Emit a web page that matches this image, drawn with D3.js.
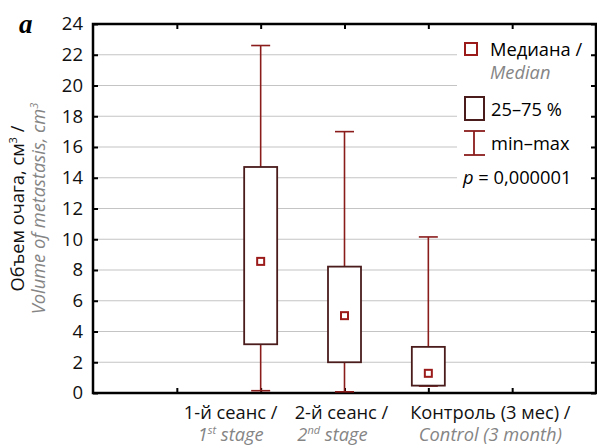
<!DOCTYPE html>
<html>
<head>
<meta charset="utf-8">
<script src="https://cdn.jsdelivr.net/npm/d3@7"></script>
<style>
  body { margin: 0; background: #fff; }
  text { font-family: "Open Sans", "Noto Sans", sans-serif; }
</style>
</head>
<body>
<div id="chart"></div>
<script>
// slots on the x axis: empty, 3 groups, empty
const slots = ["s0", "g1", "g2", "g3", "s4"];
const groupSlots = ["g1", "g2", "g3"];
const groupsRu = ["1-й сеанс /", "2-й сеанс /", "Контроль (3 мес) /"];
const groupsEnNum = ["1", "2", "Control (3 month)"];
const groupsEnSup = ["st", "nd", ""];
const groupsEnTail = [" stage", " stage", ""];

const minVals = [0.15, 0.08, 0.45];
const q1Vals = [3.17, 2.0, 0.48];
const medianVals = [8.56, 5.03, 1.28];
const q3Vals = [14.7, 8.22, 3.0];
const maxVals = [22.6, 17.0, 10.15];

const yTicks = [0, 2, 4, 6, 8, 10, 12, 14, 16, 18, 20, 22, 24];

const W = 597, H = 446;
const margin = { top: 24, right: 1, bottom: 53, left: 93 };
const width = W - margin.left - margin.right;
const height = H - margin.top - margin.bottom;

const fs = "18.3px";
const supFs = "11px";
const whiskerColor = "#8b1c1c";
const boxColor = "#4a1c1c";
const medianColor = "#9b1b1b";
const grey = "#858585";

const svg = d3.select("#chart").append("svg")
    .attr("width", W)
    .attr("height", H);

const g = svg.append("g")
    .attr("transform", "translate(" + margin.left + "," + margin.top + ")");

const x = d3.scalePoint()
    .domain(slots)
    .range([0, width])
    .padding(1);

const y = d3.scaleLinear()
    .domain([0, 24])
    .range([height, 0]);

// gridlines
g.append("g")
    .selectAll("line")
    .data(yTicks.filter(t => t > 0 && t < 24))
    .enter()
    .append("line")
    .attr("x1", 0)
    .attr("x2", width)
    .attr("y1", d => y(d))
    .attr("y2", d => y(d))
    .style("stroke", "#c4c4c4")
    .style("stroke-width", 1.2);

// legend background covers gridlines
const lg = g.append("g").attr("transform", "translate(" + (457 - margin.left) + ",0)");
lg.append("rect")
    .attr("x", 0)
    .attr("y", 6)
    .attr("width", width - (457 - margin.left) - 3)
    .attr("height", 176)
    .style("fill", "#fff");

// axes
const tickSize = 5;
g.append("g")
    .call(d3.axisLeft(y).tickValues(yTicks).tickSize(-tickSize).tickPadding(10))
    .call(a => a.select(".domain").remove())
    .call(a => a.selectAll("line").style("stroke", "#000").style("stroke-width", 2))
    .call(a => a.selectAll("text").style("font-size", "18.5px").style("fill", "#111").attr("font-family", null));

g.append("g")
    .attr("transform", "translate(" + width + ",0)")
    .call(d3.axisRight(y).tickValues(yTicks).tickSize(-tickSize).tickFormat(""))
    .call(a => a.select(".domain").remove())
    .call(a => a.selectAll("line").style("stroke", "#000").style("stroke-width", 2));

g.append("g")
    .call(d3.axisTop(x).tickSize(-tickSize).tickFormat(""))
    .call(a => a.select(".domain").remove())
    .call(a => a.selectAll("line").style("stroke", "#000").style("stroke-width", 2));

g.append("g")
    .attr("transform", "translate(0," + height + ")")
    .call(d3.axisBottom(x).tickSize(-tickSize).tickFormat(""))
    .call(a => a.select(".domain").remove())
    .call(a => a.selectAll("line").style("stroke", "#000").style("stroke-width", 2));

// frame
g.append("rect")
    .attr("x", 0)
    .attr("y", 0)
    .attr("width", width)
    .attr("height", height)
    .style("fill", "none")
    .style("stroke", "#000")
    .style("stroke-width", 2.5);

// boxes
const boxW = 33, capW = 19;
const data = groupSlots.map((s, i) => ({
    slot: s, min: minVals[i], q1: q1Vals[i], med: medianVals[i], q3: q3Vals[i], max: maxVals[i]
}));

const bx = g.append("g").selectAll("g.box")
    .data(data)
    .enter()
    .append("g")
    .attr("class", "box");

bx.append("line")
    .attr("x1", d => x(d.slot)).attr("x2", d => x(d.slot))
    .attr("y1", d => y(d.max)).attr("y2", d => y(d.q3))
    .style("stroke", whiskerColor).style("stroke-width", 1.6);
bx.append("line")
    .attr("x1", d => x(d.slot)).attr("x2", d => x(d.slot))
    .attr("y1", d => y(d.q1)).attr("y2", d => y(d.min))
    .style("stroke", whiskerColor).style("stroke-width", 1.6);
bx.append("line")
    .attr("x1", d => x(d.slot) - capW / 2).attr("x2", d => x(d.slot) + capW / 2)
    .attr("y1", d => y(d.max)).attr("y2", d => y(d.max))
    .style("stroke", whiskerColor).style("stroke-width", 1.6);
bx.append("line")
    .attr("x1", d => x(d.slot) - capW / 2).attr("x2", d => x(d.slot) + capW / 2)
    .attr("y1", d => y(d.min)).attr("y2", d => y(d.min))
    .style("stroke", whiskerColor).style("stroke-width", 1.6);
bx.append("rect")
    .attr("x", d => x(d.slot) - boxW / 2)
    .attr("width", boxW)
    .attr("y", d => y(d.q3))
    .attr("height", d => y(d.q1) - y(d.q3))
    .style("fill", "#fff")
    .style("stroke", boxColor)
    .style("stroke-width", 1.8);
bx.append("rect")
    .attr("x", d => x(d.slot) - 3.5)
    .attr("y", d => y(d.med) - 3.5)
    .attr("width", 7)
    .attr("height", 7)
    .style("fill", "#fff")
    .style("stroke", medianColor)
    .style("stroke-width", 2);

// legend
lg.append("rect")
    .attr("x", 8).attr("y", 19).attr("width", 12).attr("height", 12)
    .style("fill", "#fff").style("stroke", medianColor).style("stroke-width", 2);
lg.append("text").attr("x", 33).attr("y", 32).style("font-size", fs).text("Медиана /");
lg.append("text").attr("x", 33).attr("y", 55).style("font-size", fs)
    .style("font-style", "italic").style("fill", grey).text("Median");
lg.append("rect")
    .attr("x", 8).attr("y", 73).attr("width", 19).attr("height", 23)
    .style("fill", "#fff").style("stroke", boxColor).style("stroke-width", 2);
lg.append("text").attr("x", 34).attr("y", 92).style("font-size", fs).text("25–75 %");
lg.append("line").attr("x1", 17).attr("x2", 17).attr("y1", 107).attr("y2", 131)
    .style("stroke", whiskerColor).style("stroke-width", 1.8);
lg.append("line").attr("x1", 7).attr("x2", 28).attr("y1", 107).attr("y2", 107)
    .style("stroke", whiskerColor).style("stroke-width", 1.8);
lg.append("line").attr("x1", 7).attr("x2", 28).attr("y1", 131).attr("y2", 131)
    .style("stroke", whiskerColor).style("stroke-width", 1.8);
lg.append("text").attr("x", 34).attr("y", 126).style("font-size", fs).text("min–max");
const pt = lg.append("text").attr("x", 6).attr("y", 160).style("font-size", fs);
pt.append("tspan").style("font-style", "italic").text("p");
pt.append("tspan").text(" = 0,000001");

// x category labels
const labelShift = [-30, -3, 62];
const xl = g.append("g").attr("transform", "translate(0," + height + ")");
groupSlots.forEach((s, i) => {
    xl.append("text")
        .attr("x", x(s) + labelShift[i])
        .attr("y", 26)
        .attr("text-anchor", "middle")
        .style("font-size", fs)
        .style("fill", "#111")
        .text(groupsRu[i]);
    const t = xl.append("text")
        .attr("x", x(s) + labelShift[i] + (i === 1 ? -9 : 0))
        .attr("y", 48)
        .attr("text-anchor", "middle")
        .style("font-size", fs)
        .style("font-style", "italic")
        .style("fill", grey);
    t.append("tspan").text(groupsEnNum[i]);
    if (groupsEnSup[i]) {
        t.append("tspan").attr("dy", -7).style("font-size", supFs).text(groupsEnSup[i]);
        t.append("tspan").attr("dy", 7).text(groupsEnTail[i]);
    }
});

// y axis title
const yt = svg.append("g")
    .attr("transform", "translate(0," + (margin.top + height / 2) + ") rotate(-90)");
const t1 = yt.append("text").attr("x", 0).attr("y", 24).attr("text-anchor", "middle")
    .style("font-size", fs).style("fill", "#111");
t1.append("tspan").text("Объем очага, см");
t1.append("tspan").attr("dy", -7).style("font-size", supFs).text("3");
t1.append("tspan").attr("dy", 7).text(" /");
const t2 = yt.append("text").attr("x", 0).attr("y", 45).attr("text-anchor", "middle")
    .style("font-size", fs).style("font-style", "italic").style("fill", grey);
t2.append("tspan").text("Volume of metastasis, cm");
t2.append("tspan").attr("dy", -7).style("font-size", supFs).text("3");

// panel letter
svg.append("text")
    .attr("x", 19)
    .attr("y", 33)
    .style("font-family", "'Liberation Serif', serif")
    .style("font-weight", "bold")
    .style("font-style", "italic")
    .style("font-size", "27px")
    .text("a");
</script>
</body>
</html>
